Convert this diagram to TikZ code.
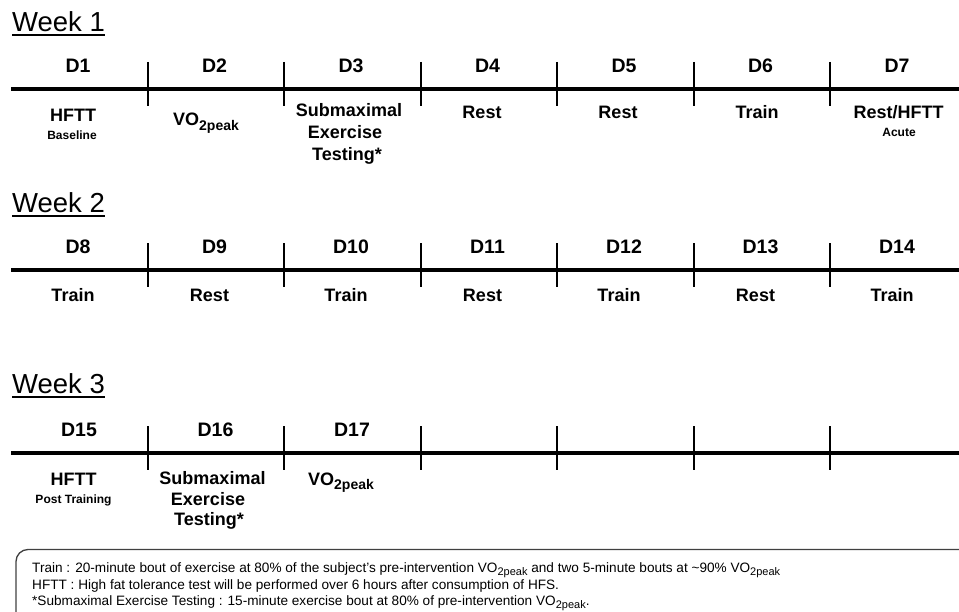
\documentclass[tikz,border=0pt]{standalone}
\usepackage{fontspec}
\setmainfont{Liberation Sans}
\newcommand\VOb{VO\raisebox{-4.5pt}{\fontsize{14}{14}\selectfont 2peak}}
\newcommand\VOn{VO\raisebox{-3pt}{\fontsize{11}{11}\selectfont 2peak}}
\tikzset{
  weektitle/.style={font=\fontsize{27.5}{30}\selectfont, anchor=base west, inner sep=0pt},
  daylab/.style={font=\bfseries\fontsize{19.5}{20}\selectfont, anchor=base, inner sep=0pt},
  actlab/.style={font=\bfseries\fontsize{18}{20}\selectfont, anchor=base, inner sep=0pt},
  sublab/.style={font=\bfseries\fontsize{12}{14}\selectfont, anchor=base, inner sep=0pt},
  timeline/.style={line width=4pt},
  daytick/.style={line width=2pt},
  underl/.style={line width=1.5pt},
  notebox/.style={line width=1.3pt, draw=black!75, rounded corners=12pt},
  notetext/.style={font=\fontsize{13.6}{15}\selectfont, anchor=base west, inner sep=0pt},
}
\begin{document}
\begin{tikzpicture}[x=1pt,y=-1pt]
\useasboundingbox (0,0) rectangle (959,612);

% ---------- rows: timelines and ticks ----------
\foreach \r/\L in {1/89, 2/270.5, 3/453.3} {
  \coordinate (w\r s) at (11,\L);
  \coordinate (w\r e) at (965,\L);
  \draw[timeline] (w\r s) -- (w\r e);
  \foreach \i in {1,...,6} {
    \coordinate (w\r t\i a) at ({11+136.5*\i},{\L-27});
    \coordinate (w\r t\i b) at ({11+136.5*\i},{\L+17});
    \draw[daytick] (w\r t\i a) -- (w\r t\i b);
  }
}

% ---------- week titles ----------
\node[weektitle] (t1) at (12,32) {Week 1};
\node[weektitle] (t2) at (12,213) {Week 2};
\node[weektitle] (t3) at (12,394) {Week 3};
\foreach \t in {t1,t2,t3} {
  \draw[underl] ([yshift=-3pt]\t.base west) -- ([yshift=-3pt]\t.base east);
}

% ---------- day labels ----------
\foreach \k/\d in {0/D1,1/D2,2/D3,3/D4,4/D5,5/D6,6/D7} {
  \node[daylab] (d\d) at ({78+136.5*\k},72.5) {\d};
}
\foreach \k/\d in {0/D8,1/D9,2/D10,3/D11,4/D12,5/D13,6/D14} {
  \node[daylab] (d\d) at ({78+136.5*\k},254) {\d};
}
\foreach \k/\d in {0/D15,1/D16,2/D17} {
  \node[daylab] (d\d) at ({79+136.5*\k},436) {\d};
}

% ---------- week 1 activities ----------
\node[actlab] (a1) at (73,122) {HFTT};
\node[sublab] (a1s) at (72,140) {Baseline};
\node[actlab, anchor=base west] (a2) at (173,126) {\VOb};
\node[actlab] (a3a) at (349,117) {Submaximal};
\node[actlab] (a3b) at (345,139) {Exercise};
\node[actlab] (a3c) at (347,160.5) {Testing*};
\node[actlab] (a4) at (482,119) {Rest};
\node[actlab] (a5) at (618,119) {Rest};
\node[actlab] (a6) at (757,119) {Train};
\node[actlab] (a7) at (898.5,119) {Rest/HFTT};
\node[sublab] (a7s) at (899,137) {Acute};

% ---------- week 2 activities ----------
\foreach \k/\w in {0/Train,1/Rest,2/Train,3/Rest,4/Train,5/Rest,6/Train} {
  \node[actlab] (b\k) at ({73+136.5*\k},301.5) {\w};
}

% ---------- week 3 activities ----------
\node[actlab] (c1) at (73.5,485) {HFTT};
\node[sublab] (c1s) at (73.5,503) {Post Training};
\node[actlab] (c2a) at (212.5,484.3) {Submaximal};
\node[actlab] (c2b) at (208,505.3) {Exercise};
\node[actlab] (c2c) at (209,525.8) {Testing*};
\node[actlab, anchor=base west] (c3) at (308,485.3) {\VOb};

% ---------- note box ----------
\coordinate (nb1) at (16,549.5);
\coordinate (nb2) at (985,640);
\draw[notebox] (nb1) rectangle (nb2);
\node[notetext] (n1) at (32,572) {Train : 20-minute bout of exercise at 80\% of the subject's pre-intervention \VOn{} and two 5-minute bouts at \textasciitilde 90\% \VOn};
\node[notetext] (n2) at (32,589) {HFTT : High fat tolerance test will be performed over 6 hours after consumption of HFS.};
\node[notetext] (n3) at (32,605.5) {*Submaximal Exercise Testing : 15-minute exercise bout at 80\% of pre-intervention \VOn.};
\end{tikzpicture}
\end{document}
